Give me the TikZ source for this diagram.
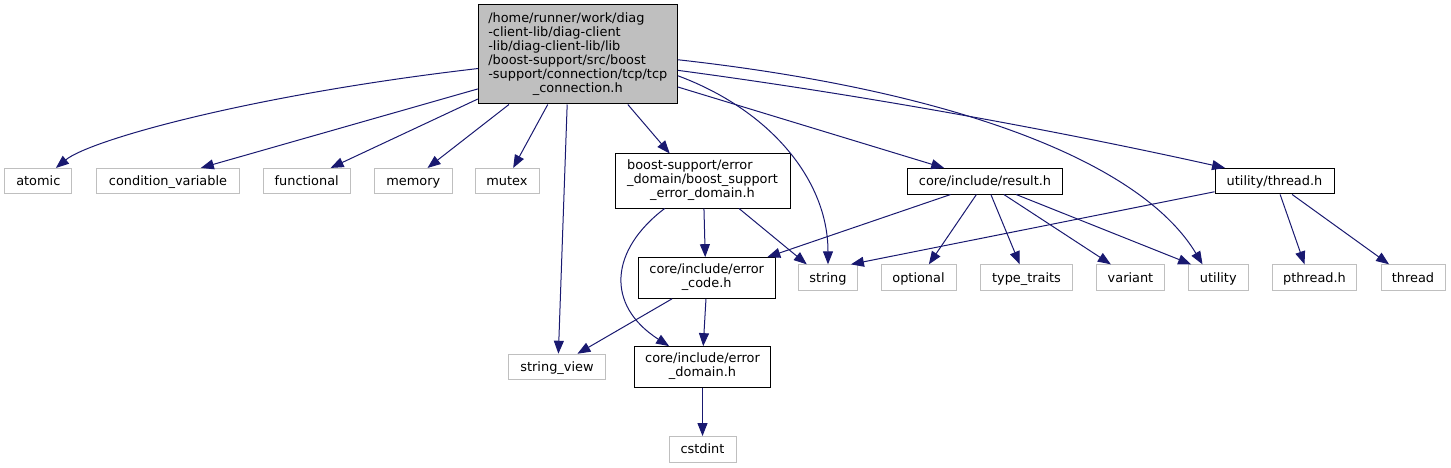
\documentclass[tikz,border=0pt]{standalone}
\usepackage{fontspec}
\setmainfont{DejaVu Sans}
\usepackage{tikz}
\usetikzlibrary{arrows.meta}
\usepackage{xcolor}

\definecolor{edgeblue}{HTML}{191970}
\definecolor{sysgray}{HTML}{BFBFBF}

% file names: all lines left but the last one, which is centred
\newcommand{\flist}[1]{\begin{tabular}{@{}l@{}}#1\end{tabular}}
\newcommand{\ctrline}[1]{\multicolumn{1}{@{}c@{}}{#1}}

\begin{document}
\begin{tikzpicture}[
    x=1pt, y=-1pt,
    every node/.style={font=\fontsize{12.9}{14}\selectfont, inner xsep=3pt, inner ysep=2pt},
    oneline/.style={text height=11.6pt, text depth=2.6pt},
    sysfile/.style={rectangle, draw=sysgray, line width=1pt, fill=white, minimum width=#1, minimum height=25.5pt, oneline},
    localfile/.style={rectangle, draw=black, line width=1pt, fill=white, minimum width=#1, minimum height=25.5pt},
    mainfile/.style={localfile=#1, fill=sysgray},
    dep/.style={-{Triangle[length=13pt, width=10pt]}, draw=edgeblue, line width=1pt},
]
    \useasboundingbox (0,0) rectangle (1451,468);

    % Header being documented
    \node[mainfile=199pt, minimum height=99pt] (main) at (577.8,54.5)
        {\flist{/home/runner/work/diag\\-client-lib/diag-client\\-lib/diag-client-lib/lib\\/boost-support/src/boost\\-support/connection/tcp/tcp\\\ctrline{\_connection.h}}};

    % First level includes
    \node[sysfile=67pt] (atomic) at (38.3,181.2) {atomic};
    \node[sysfile=142.6pt] (condvar) at (168,181.2) {condition\_variable};
    \node[sysfile=86.7pt] (functional) at (306.7,181.2) {functional};
    \node[sysfile=78pt] (memory) at (413.3,181.2) {memory};
    \node[sysfile=64pt] (mutex) at (507,181.2) {mutex};
    \node[localfile=175pt, minimum height=54pt] (boost) at (702.5,181)
        {\flist{boost-support/error\\\_domain/boost\_support\\\ctrline{\_error\_domain.h}}};
    \node[localfile=155.5pt, oneline] (result) at (985,181.3) {core/include/result.h};
    \node[localfile=119pt, oneline] (threadh) at (1274.5,181.2) {utility/thread.h};

    % Second level
    \node[sysfile=59pt] (string) at (828,277.6) {string};
    \node[sysfile=75pt] (optional) at (918.5,277.6) {optional};
    \node[sysfile=92pt] (typetraits) at (1026.5,277.6) {type\_traits};
    \node[sysfile=68pt] (variant) at (1130.5,277.6) {variant};
    \node[sysfile=60pt] (utility) at (1218.3,277.6) {utility};
    \node[sysfile=84pt] (pthread) at (1314.5,277.6) {pthread.h};
    \node[sysfile=64pt] (thread) at (1413,277.6) {thread};
    \node[localfile=136.7pt, minimum height=40.7pt] (errcode) at (706.7,278)
        {\flist{core/include/error\\\ctrline{\_code.h}}};

    % Lower levels
    \node[sysfile=97.7pt] (stringview) at (557,367) {string\_view};
    \node[localfile=136.4pt, minimum height=40.7pt] (errdomain) at (702.5,367)
        {\flist{core/include/error\\\ctrline{\_domain.h}}};
    \node[sysfile=67pt] (cstdint) at (702.5,449.3) {cstdint};

    % Includes of the header
    \draw[dep] (main.188) .. controls (250,95) and (90,140) .. (atomic.37);
    \draw[dep] (main.199) -- (condvar.22);
    \draw[dep] (main.204) -- (functional.29);
    \draw[dep] (main.216) -- (memory.43);
    \draw[dep] (main.239) -- (mutex.65);
    \draw[dep] (main.258) -- (stringview.84);
    \draw[dep] (main.315) -- (boost.140);
    \draw[dep] (main.348) .. controls (770,110) and (828,180) .. (string.north);
    \draw[dep] (main.342) -- (result.162);
    \draw[dep] (main.351) .. controls (900,100) and (1100,140) .. (threadh.165);
    \draw[dep] (main.357) .. controls (950,90) and (1140,160) .. (utility.140);

    % boost_support_error_domain.h
    \draw[dep] (boost.273) -- (errcode.94);
    \draw[dep] (boost.323) -- (string.148);
    \draw[dep] (boost.216) .. controls (610,250) and (605,305) .. (errdomain.148);

    % result.h
    \draw[dep] (result.201) -- (errcode.19);
    \draw[dep] (result.237) -- (optional.52);
    \draw[dep] (result.294) -- (typetraits.117);
    \draw[dep] (result.325) -- (variant.146);
    \draw[dep] (result.337) -- (utility.154);

    % thread.h
    \draw[dep] (threadh.190) -- (string.30);
    \draw[dep] (threadh.293) -- (pthread.127);
    \draw[dep] (threadh.323) -- (thread.151);

    % error code and domain
    \draw[dep] (errcode.211) -- (stringview.33);
    \draw[dep] (errcode.268) -- (errdomain.88);
    \draw[dep] (errdomain.south) -- (cstdint.north);
\end{tikzpicture}
\end{document}
